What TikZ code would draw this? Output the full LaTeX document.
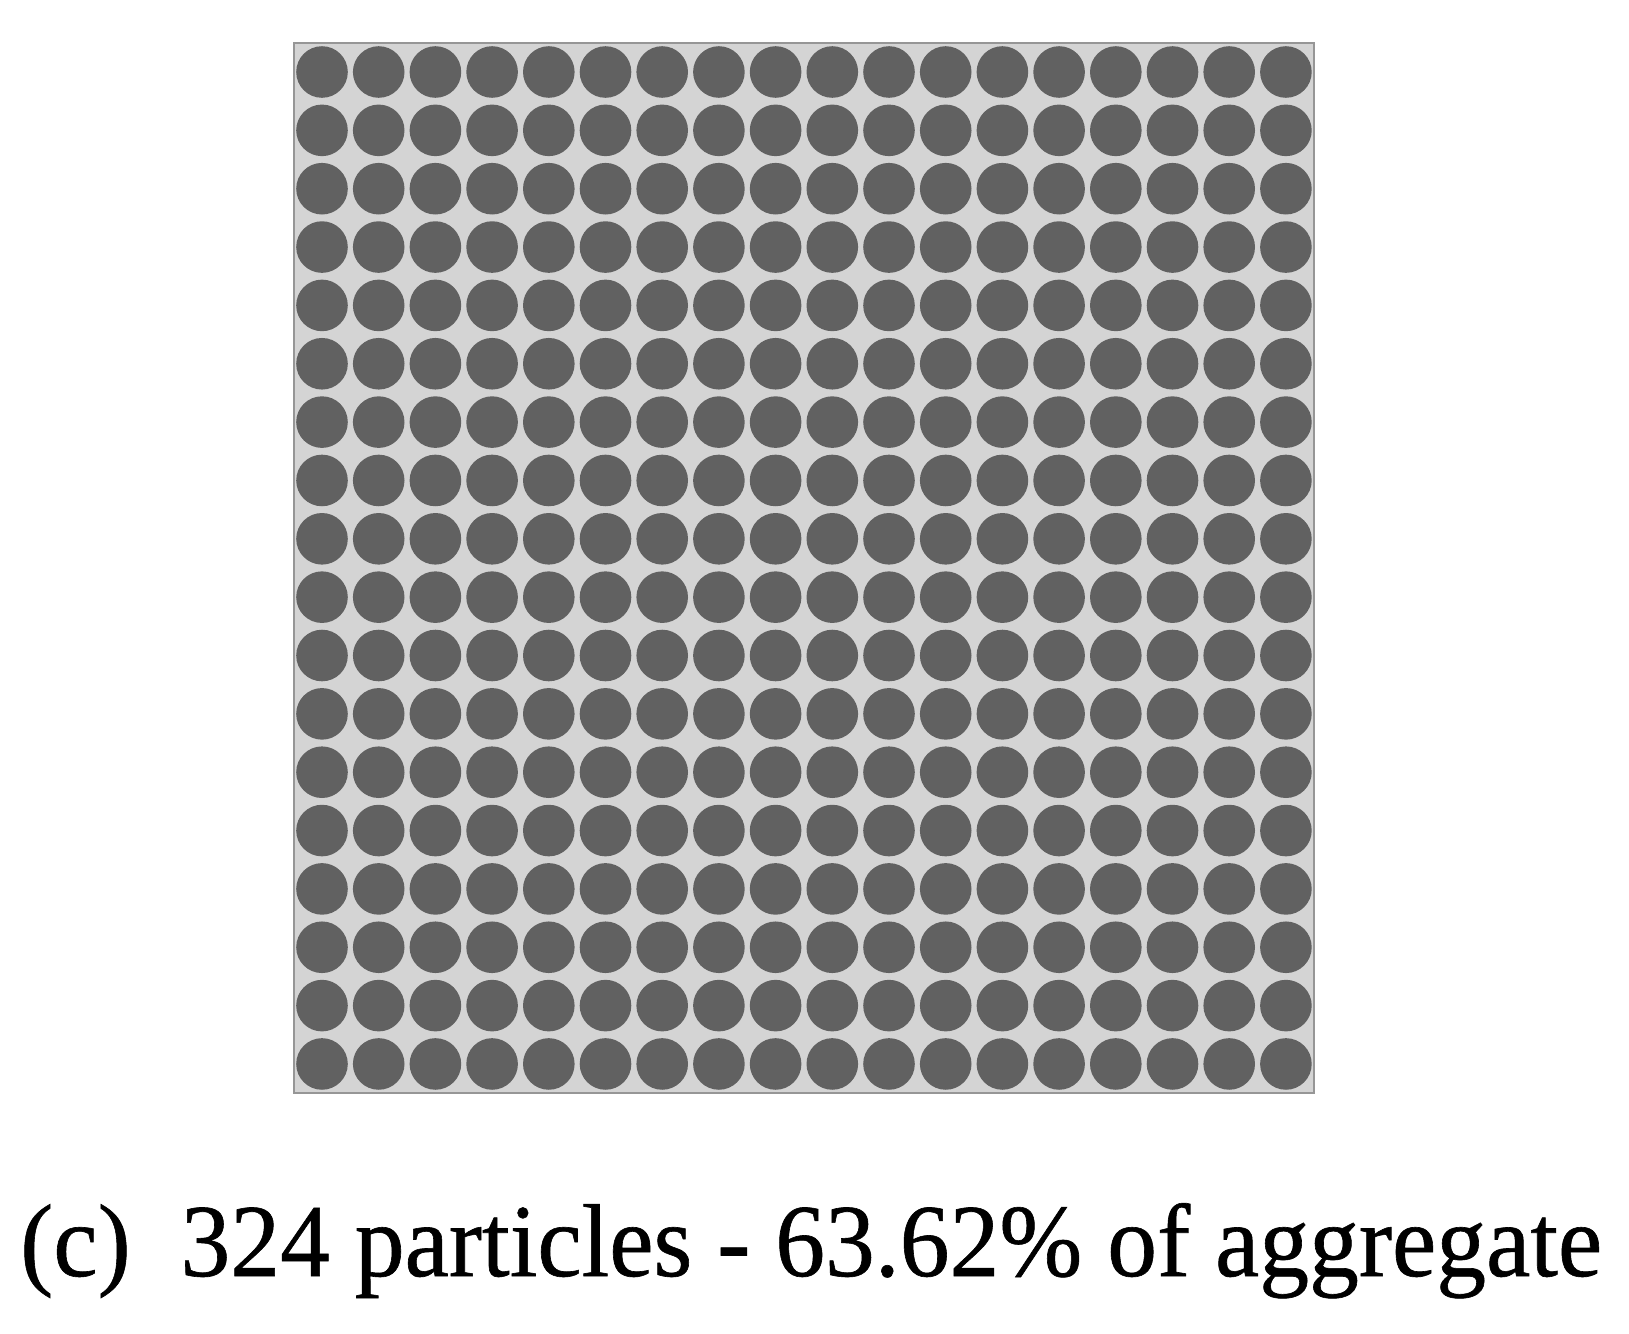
\documentclass[tikz,border=0pt]{standalone}
\usepackage{fontspec}
\setmainfont{Liberation Serif}[FakeBold=0.6]
\definecolor{bgpanel}{RGB}{212,212,212}
\definecolor{particlecol}{RGB}{97,97,97}
\definecolor{framecol}{RGB}{150,150,150}
\tikzset{
  panel/.style={draw=framecol, line width=2pt, fill=bgpanel, rectangle, inner sep=0pt,
    minimum width=1020pt, minimum height=1050pt, anchor=north west},
  particle/.style={fill=particlecol},
  caption/.style={anchor=base west, inner sep=0pt, font=\fontsize{99.6}{110}\selectfont}
}
\begin{document}
\begin{tikzpicture}[x=1pt,y=-1pt]
\useasboundingbox (0,0) rectangle (1629,1333);
\fill[white] (0,0) rectangle (1629,1333);
\node[panel] (box) at (293,42) {};
\foreach \i in {0,...,17}{
  \foreach \j in {0,...,17}{
    \fill[particle] (322+\i*56.7, 72+\j*58.35) circle (25.8pt);
  }
}
\node[caption, yscale=1.04] (cap) at (20,1276) {(c)\hspace{0.5em}324 particles - 63.62\% of aggregate};
\end{tikzpicture}
\end{document}
